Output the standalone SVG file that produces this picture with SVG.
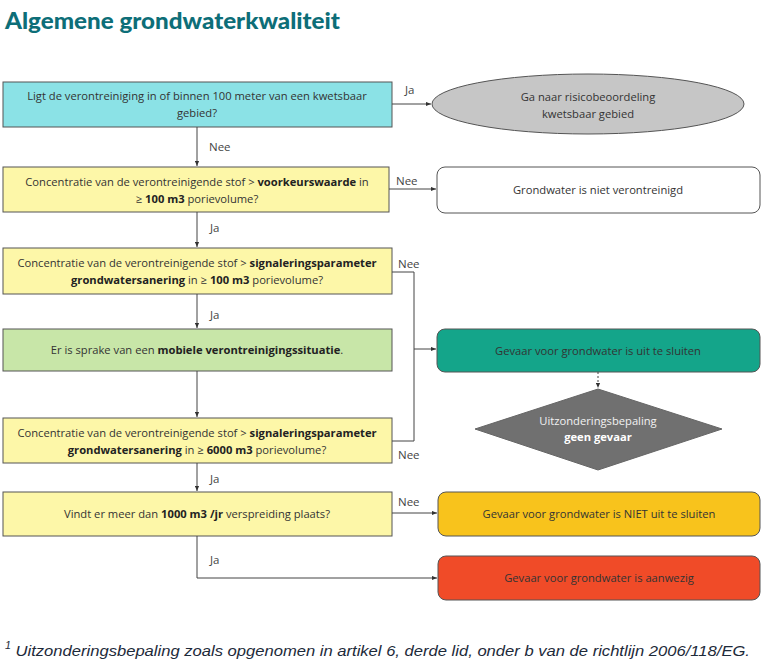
<svg xmlns="http://www.w3.org/2000/svg" width="765" height="672" viewBox="0 0 765 672">
<defs>
<marker id="ah" viewBox="0 0 6 6" refX="6" refY="3" markerWidth="5" markerHeight="5" orient="auto">
<path d="M0,0.5 L6,3 L0,5.5 Z" fill="#333"/>
</marker>
<style>
.t{font-family:"Open Sans","DejaVu Sans",sans-serif;font-size:11.2px;fill:#333;text-anchor:middle}
.l{font-family:"Open Sans","DejaVu Sans",sans-serif;font-size:11.5px;fill:#444}
.b{font-weight:bold;fill:#222}
.box{stroke:#555;stroke-width:1}
.c{fill:none;stroke:#444;stroke-width:1}
</style>
</defs>
<rect width="765" height="672" fill="#fff"/>
<text x="5" y="29" font-family="Lato,'Open Sans',sans-serif" font-weight="900" font-size="23" fill="#0d6e78" textLength="335" lengthAdjust="spacingAndGlyphs">Algemene grondwaterkwaliteit</text>

<g id="n1"><rect class="box" x="3" y="82" width="389" height="45" fill="#8be2e6"/>
<text class="t" x="197" y="100">Ligt de verontreiniging in of binnen 100 meter van een kwetsbaar</text>
<text class="t" x="197" y="117">gebied?</text></g>

<g id="n2"><ellipse class="box" cx="588" cy="104" rx="156" ry="30" fill="#c6c6c6"/>
<text class="t" x="588" y="101">Ga naar risicobeoordeling</text>
<text class="t" x="588" y="118">kwetsbaar gebied</text></g>

<g id="n3"><rect class="box" x="3" y="167" width="386" height="45" fill="#fdf7a8"/>
<text class="t" x="197" y="186">Concentratie van de verontreinigende stof &gt; <tspan class="b">voorkeurswaarde</tspan> in</text>
<text class="t" x="197" y="203">≥ <tspan class="b">100 m3</tspan> porievolume?</text></g>

<g id="n4"><rect class="box" x="437" y="167" width="323" height="46" rx="8" fill="#fff"/>
<text class="t" x="598" y="194">Grondwater is niet verontreinigd</text></g>

<g id="n5"><rect class="box" x="3" y="248" width="389" height="46" fill="#fdf7a8"/>
<text class="t" x="197" y="267">Concentratie van de verontreinigende stof &gt; <tspan class="b">signaleringsparameter</tspan></text>
<text class="t" x="197" y="284"><tspan class="b">grondwatersanering</tspan> in ≥ <tspan class="b">100 m3</tspan> porievolume?</text></g>

<g id="n6"><rect class="box" x="3" y="329" width="389" height="42" fill="#c8e6a8"/>
<text class="t" x="197" y="354">Er is sprake van een <tspan class="b">mobiele verontreinigingssituatie</tspan>.</text></g>

<g id="n7"><rect class="box" x="437" y="329" width="323" height="43" rx="8" fill="#14a58a"/>
<text class="t" x="598" y="355">Gevaar voor grondwater is uit te sluiten</text></g>

<g id="n8"><polygon points="598,389 722,429 598,470 475,429" fill="#707070" stroke="#666"/>
<text class="t" x="598" y="425" style="fill:#f2f2f2">Uitzonderingsbepaling</text>
<text class="t" x="598" y="441" style="fill:#fff;font-weight:bold">geen gevaar</text></g>

<g id="n9"><rect class="box" x="3" y="418" width="389" height="45" fill="#fdf7a8"/>
<text class="t" x="197" y="437">Concentratie van de verontreinigende stof &gt; <tspan class="b">signaleringsparameter</tspan></text>
<text class="t" x="197" y="454"><tspan class="b">grondwatersanering</tspan> in ≥ <tspan class="b">6000 m3</tspan> porievolume?</text></g>

<g id="n10"><rect class="box" x="3" y="492" width="389" height="44" fill="#fdf7a8"/>
<text class="t" x="197" y="518">Vindt er meer dan <tspan class="b">1000 m3 /jr</tspan> verspreiding plaats?</text></g>

<g id="n11"><rect class="box" x="438" y="492" width="322" height="44" rx="8" fill="#f8c31c"/>
<text class="t" x="599" y="518">Gevaar voor grondwater is NIET uit te sluiten</text></g>

<g id="n12"><rect class="box" x="438" y="556" width="322" height="44" rx="8" fill="#f04b28"/>
<text class="t" x="599" y="582">Gevaar voor grondwater is aanwezig</text></g>

<g id="connectors">
<path class="c" d="M392,104 H431" marker-end="url(#ah)"/>
<path class="c" d="M197,127 V166" marker-end="url(#ah)"/>
<path class="c" d="M389,189 H436" marker-end="url(#ah)"/>
<path class="c" d="M197,212 V247" marker-end="url(#ah)"/>
<path class="c" d="M197,294 V328" marker-end="url(#ah)"/>
<path class="c" d="M392,272 H414 V441 H392"/>
<path class="c" d="M414,349 H436" marker-end="url(#ah)"/>
<path class="c" d="M598,372 V388" stroke-dasharray="2,2" marker-end="url(#ah)"/>
<path class="c" d="M197,371 V417" marker-end="url(#ah)"/>
<path class="c" d="M197,463 V491" marker-end="url(#ah)"/>
<path class="c" d="M392,513 H437" marker-end="url(#ah)"/>
<path class="c" d="M197,536 V578 H437" marker-end="url(#ah)"/>
<text class="l" x="405" y="94">Ja</text>
<text class="l" x="209" y="151">Nee</text>
<text class="l" x="396" y="185">Nee</text>
<text class="l" x="210" y="232">Ja</text>
<text class="l" x="398" y="268">Nee</text>
<text class="l" x="210" y="319">Ja</text>
<text class="l" x="398" y="459">Nee</text>
<text class="l" x="210" y="483">Ja</text>
<text class="l" x="398" y="506">Nee</text>
<text class="l" x="210" y="564">Ja</text>
</g>

<text x="5" y="656" font-family="'Liberation Sans',sans-serif" font-style="italic" font-size="15.5" fill="#1d2a3a" textLength="745" lengthAdjust="spacingAndGlyphs"><tspan font-size="10" dy="-7">1</tspan><tspan dy="7"> Uitzonderingsbepaling zoals opgenomen in artikel 6, derde lid, onder b van de richtlijn 2006/118/EG.</tspan></text>
</svg>
